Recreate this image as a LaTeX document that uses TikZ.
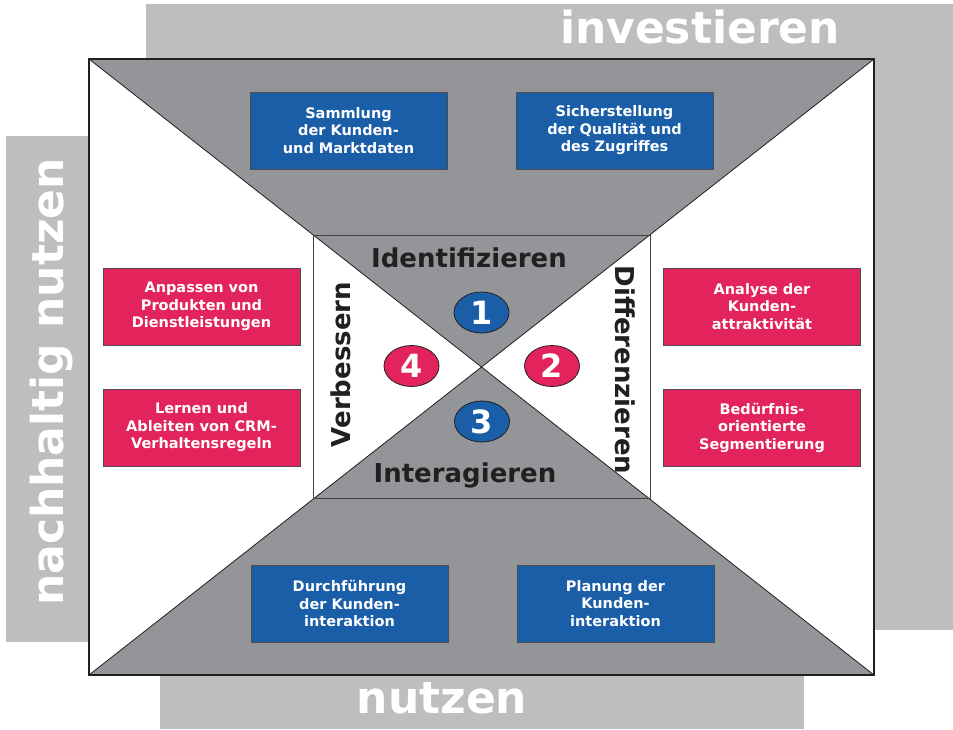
\documentclass[tikz,border=0pt]{standalone}
\usepackage{fontspec}
\setmainfont{DejaVu Sans}
\usepackage{tikz}
\usetikzlibrary{shapes.geometric}
\usetikzlibrary{positioning}
\definecolor{bandgrey}{RGB}{188, 190, 192}
\definecolor{mgrey}{RGB}{147, 149, 152}
\definecolor{mblue}{RGB}{26, 94, 168}
\definecolor{mred}{RGB}{227, 36, 92}
\definecolor{mink}{RGB}{35, 31, 32}

\tikzset{
  infobox/.style={draw=mink!80, line width=0.8pt, minimum width=197pt, minimum height=77pt,
    align=center, text=white, font=\bfseries\fontsize{14.5}{17.5}\selectfont, inner sep=0pt},
  numblob/.style={ellipse, draw=mink, line width=0.8pt, minimum width=55pt, minimum height=41pt,
    inner sep=0pt, text=white, font=\bfseries\fontsize{32}{32}\selectfont},
  bandtext/.style={text=white, font=\bfseries\fontsize{44}{44}\selectfont, inner sep=0pt},
  phase/.style={text=mink, font=\bfseries\fontsize{26}{26}\selectfont, inner sep=0pt}
}

\begin{document}
\begin{tikzpicture}[x=1pt, y=-1pt]
    \useasboundingbox (0, 0) rectangle (953, 729);

    % grey bands round the frame
    \fill [bandgrey] (146, 4) rectangle (953, 59);
    \fill [bandgrey] (875, 4) rectangle (953, 630);
    \fill [bandgrey] (6, 136) rectangle (89, 642);
    \fill [bandgrey] (160, 675) rectangle (804, 729);

    \node [bandtext, anchor=base] (invest) at (700, 43) {investieren};
    \node [bandtext, anchor=base] (use) at (442, 713) {nutzen};
    \node [bandtext, anchor=base, rotate=90] (keepuse) at (63, 382) {nachhaltig nutzen};

    % frame with its diagonals
    \coordinate (tl) at (89, 59);
    \coordinate (tr) at (874, 59);
    \coordinate (bl) at (89, 675);
    \coordinate (br) at (874, 675);
    \coordinate (mid) at (481.5, 367);
    \coordinate (itl) at (313, 235);
    \coordinate (ibr) at (650, 498);

    \fill [white] (tl) rectangle (br);
    \fill [mgrey] (tl) -- (tr) -- (mid) -- cycle;
    \fill [mgrey] (bl) -- (br) -- (mid) -- cycle;
    \draw [mink, line width=0.8pt] (tl) -- (br);
    \draw [mink, line width=0.8pt] (tr) -- (bl);
    \draw [mink!85, line width=1pt] (itl) rectangle (ibr);
    \draw [mink, line width=1.6pt] (tl) rectangle (br);

    % phases
    \node [phase, anchor=base] (ident) at (469, 267) {Identifizieren};
    \node [phase, anchor=base] (inter) at (465, 482) {Interagieren};
    \node [phase, anchor=base, rotate=90] (improve) at (350, 364.5) {Verbessern};
    \node [phase, anchor=base, rotate=-90] (differ) at (615, 370) {Differenzieren};

    \node [numblob, fill=mblue] (one) at (481.5, 312.5) {1};
    \node [numblob, fill=mred] (two) at (552, 366) {2};
    \node [numblob, fill=mblue] (three) at (482, 421.5) {3};
    \node [numblob, fill=mred] (four) at (411.5, 366) {4};

    % task boxes
    \node [infobox, fill=mblue] (collect) at (348.5, 130.5) {Sammlung\\der Kunden-\\und Marktdaten};
    \node [infobox, fill=mblue] (secure) at (614.5, 130.5) {Sicherstellung\\der Qualität und\\des Zugriffes};
    \node [infobox, fill=mblue] (run) at (349.5, 603.5) {Durchführung\\der Kunden-\\interaktion};
    \node [infobox, fill=mblue] (plan) at (615.5, 603.5) {Planung der\\Kunden-\\interaktion};
    \node [infobox, fill=mred] (adapt) at (201.5, 306.5) {Anpassen von\\Produkten und\\Dienstleistungen};
    \node [infobox, fill=mred] (learn) at (201.5, 427.5) {Lernen und\\Ableiten von CRM-\\Verhaltensregeln};
    \node [infobox, fill=mred] (analyse) at (762, 306.5) {Analyse der\\Kunden-\\attraktivität};
    \node [infobox, fill=mred] (segment) at (762, 427.5) {Bedürfnis-\\orientierte\\Segmentierung};
  \end{tikzpicture}
\end{document}
